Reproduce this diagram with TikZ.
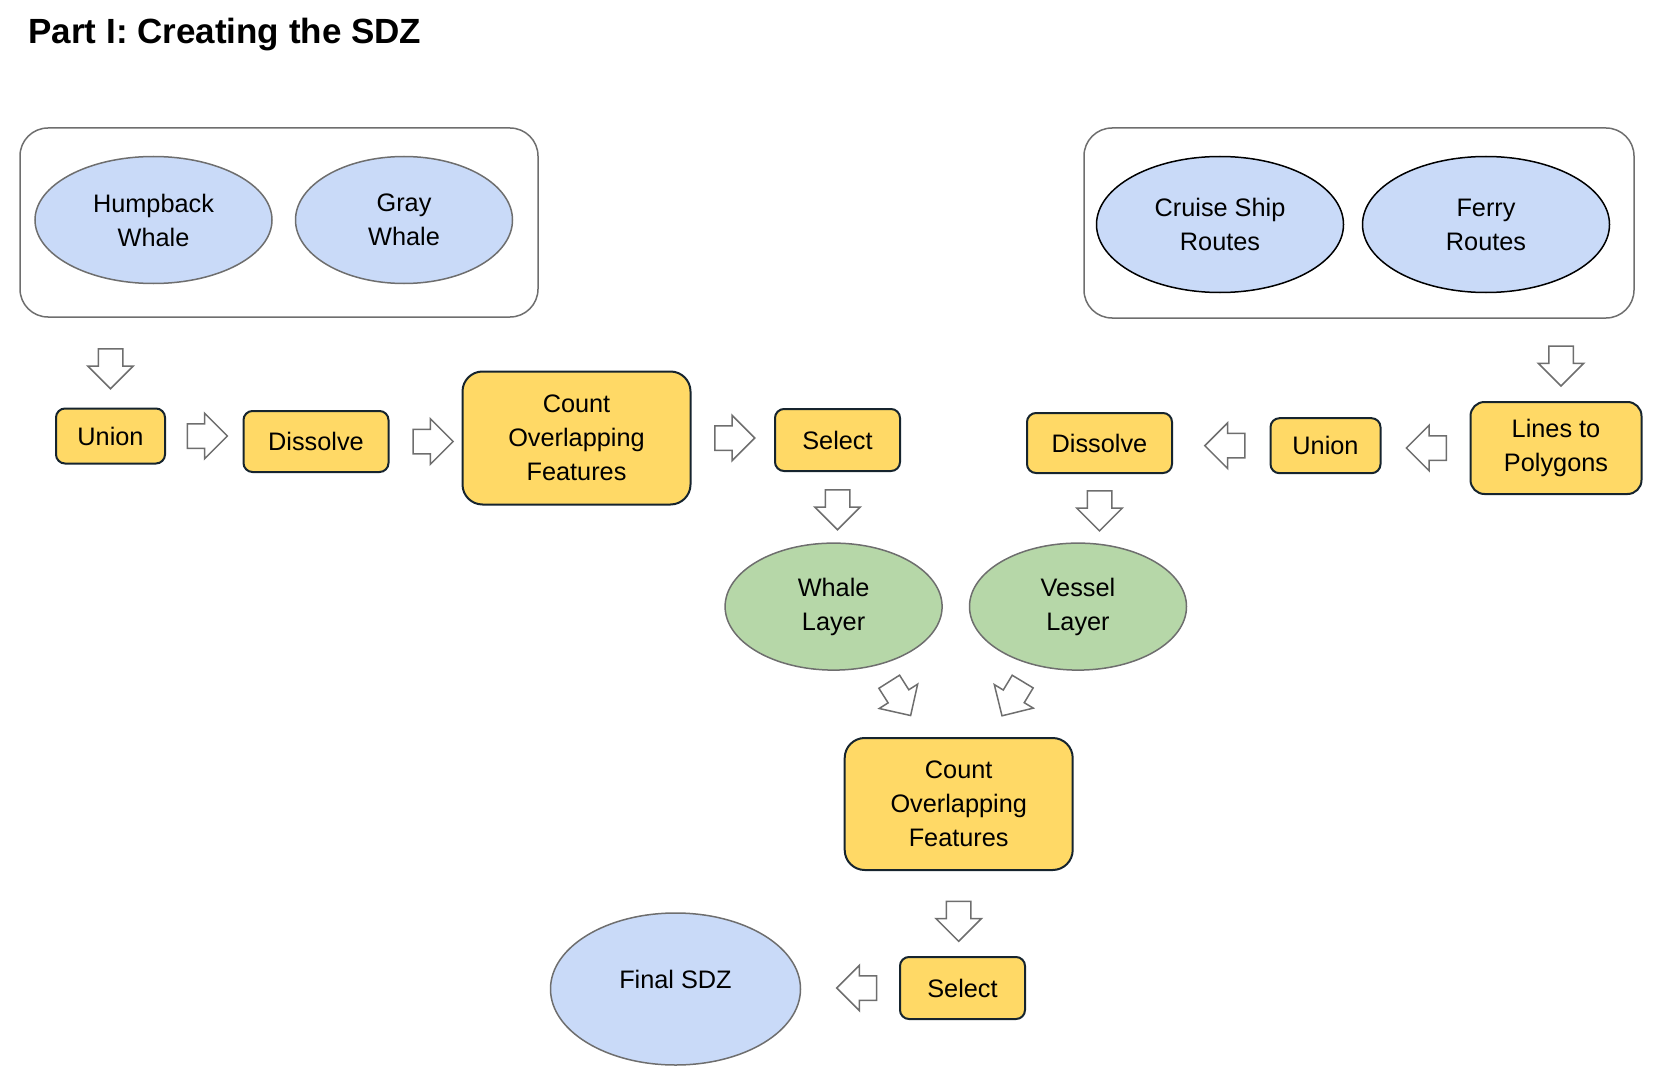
\documentclass[tikz,border=0pt]{standalone}
\usepackage{fontspec}
\setmainfont{Liberation Sans}
\usetikzlibrary{shapes.geometric,shapes.arrows}
\definecolor{inblue}{HTML}{C9DAF8}
\definecolor{lyrgreen}{HTML}{B6D7A8}
\definecolor{toolyel}{HTML}{FFD966}
\definecolor{toolrim}{HTML}{16242E}
\definecolor{rimgray}{HTML}{6E6E6E}

\begin{document}
\begin{tikzpicture}[x=1pt,y=-1pt,
    font=\fontsize{25.3}{34}\selectfont,
    tool/.style={draw=toolrim,fill=toolyel,line width=2pt,rounded corners=9pt,align=center,inner sep=0pt},
    data/.style={ellipse,draw=rimgray,fill=inblue,line width=1.5pt,align=center,inner sep=0pt},
    layer/.style={data,fill=lyrgreen},
    grp/.style={draw=rimgray,line width=1.5pt,rounded corners=28pt,inner sep=0pt},
    flow/.style={single arrow,draw=rimgray,fill=white,line width=1.5pt,minimum height=40pt,
        inner xsep=0pt,inner ysep=11.5pt,single arrow head extend=10.5pt,sloped,allow upside down}]

	\useasboundingbox (0,0) rectangle (1660,1086);

	\node (title) [anchor=base west,font=\fontsize{35}{40}\selectfont\bfseries] at (25,44) {Part I: Creating the SDZ};

	% input layers
	\node (whales) [grp,minimum width=518pt,minimum height=189pt] at (279,222.5) {};
	\node (hump) [data,minimum width=237pt,minimum height=127pt] at (153.5,220) {Humpback\\Whale};
	\node (gray) [data,minimum width=217pt,minimum height=127pt] at (404,220) {Gray\\Whale};

	\node (vessels) [grp,minimum width=550pt,minimum height=190pt] at (1359,223) {};
	\node (cruise) [data,draw=black,minimum width=247pt,minimum height=136pt] at (1220,224.5) {Cruise Ship\\Routes};
	\node (ferry) [data,draw=black,minimum width=247pt,minimum height=136pt] at (1486,224.5) {Ferry\\Routes};

	% tools
	\node (union1) [tool,minimum width=109pt,minimum height=55pt] at (110.5,436) {Union};
	\node (diss1) [tool,minimum width=145pt,minimum height=61pt] at (316,441.5) {Dissolve};
	\node (count1) [tool,rounded corners=20pt,minimum width=228pt,minimum height=133pt] at (576.5,438) {Count\\Overlapping\\Features};
	\node (sel1) [tool,minimum width=125pt,minimum height=62pt] at (837.5,440) {Select};

	\node (lines) [tool,rounded corners=14pt,minimum width=171pt,minimum height=92pt] at (1556,448) {Lines to\\Polygons};
	\node (union2) [tool,minimum width=110pt,minimum height=55pt] at (1325.5,445.7) {Union};
	\node (diss2) [tool,minimum width=145pt,minimum height=60pt] at (1099.5,443) {Dissolve};

	\node (whale) [layer,minimum width=217pt,minimum height=127pt] at (833.6,606.6) {Whale\\Layer};
	\node (vessel) [layer,minimum width=217pt,minimum height=127pt] at (1078,606.6) {Vessel\\Layer};

	\node (count2) [tool,rounded corners=20pt,minimum width=228pt,minimum height=132pt] at (958.7,804) {Count\\Overlapping\\Features};
	\node (sel2) [tool,minimum width=125pt,minimum height=62pt] at (962.5,988) {Select};
	\node (final) [data,minimum width=250pt,minimum height=152pt] at (675.5,989) {\raisebox{10pt}[\height][\depth]{Final SDZ}};

	% block arrows
	\path (union1.north |- whales.south) -- node[flow,pos=0.5]{} (union1.north);
	\path (union1.east) -- node[flow,pos=0.46]{} (union1.east -| diss1.west);
	\path (diss1.east) -- node[flow,pos=0.52]{} (diss1.east -| count1.west);
	\path (count1.east) -- node[flow,pos=0.45]{} (count1.east -| sel1.west);
	\path (sel1.south) -- node[flow,pos=0.45]{} (sel1.south |- whale.north);

	\path ([xshift=5pt]lines.north |- vessels.south) -- node[flow,pos=0.5]{} ([xshift=5pt]lines.north);
	\path (lines.west) -- node[flow,pos=0.42]{} (lines.west -| union2.east);
	\path (union2.west) -- node[flow,pos=0.4]{} (union2.west -| diss2.east);
	\path (diss2.south) -- node[flow,pos=0.45]{} (diss2.south |- vessel.north);

	\path ([xshift=8pt]whale.center) -- node[flow,pos=0.44]{} ([xshift=8pt]count2.center);
	\path ([xshift=-10pt]vessel.center) -- node[flow,pos=0.44]{} ([xshift=-10pt]count2.center);
	\path (count2.south) -- node[flow,pos=0.52]{} (count2.south |- sel2.north);
	\path (sel2.west) -- node[flow,pos=0.37]{} (sel2.west -| final.east);

\end{tikzpicture}
\end{document}
